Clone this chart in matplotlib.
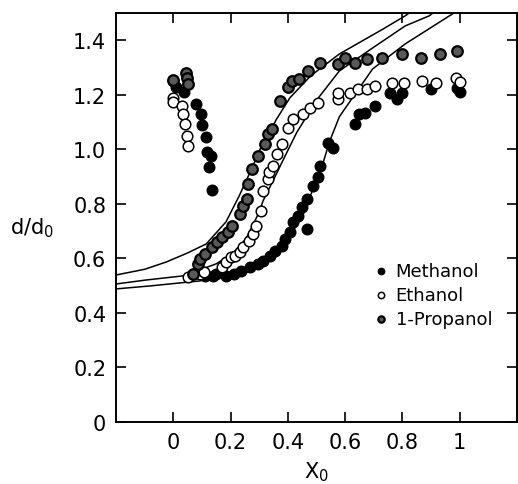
import matplotlib
matplotlib.use('Agg')
import matplotlib.pyplot as plt

# --- данные ---
meth_x = [0.0, 0.01, 0.038, 0.08, 0.097, 0.10, 0.115, 0.118, 0.132, 0.125, 0.136,
          0.11, 0.139, 0.15, 0.184, 0.212, 0.237, 0.268, 0.296, 0.313, 0.337, 0.355,
          0.379, 0.39, 0.407, 0.417, 0.435, 0.449, 0.466, 0.466, 0.487, 0.504, 0.511,
          0.54, 0.557, 0.633, 0.65, 0.668, 0.703, 0.755, 0.78, 0.80, 0.90, 0.99, 1.0]
meth_y = [1.25, 1.23, 1.21, 1.165, 1.13, 1.09, 1.045, 0.99, 0.975, 0.935, 0.85,
          0.536, 0.536, 0.543, 0.536, 0.543, 0.554, 0.569, 0.58, 0.59, 0.61, 0.627,
          0.646, 0.672, 0.697, 0.734, 0.756, 0.789, 0.818, 0.708, 0.866, 0.899, 0.939,
          1.024, 1.005, 1.094, 1.13, 1.134, 1.16, 1.207, 1.185, 1.207, 1.222, 1.225, 1.21]

eth_x = [0.0, 0.0, 0.03, 0.035, 0.04, 0.048, 0.05,
         0.052, 0.094, 0.108, 0.17, 0.184, 0.2, 0.216, 0.233, 0.243, 0.264, 0.278,
         0.289, 0.306, 0.313, 0.33, 0.334, 0.348, 0.362, 0.38, 0.40, 0.417, 0.452,
         0.477, 0.504, 0.574, 0.574, 0.616, 0.644, 0.678, 0.703, 0.762, 0.807, 0.87,
         0.918, 0.988, 1.0]
eth_y = [1.19, 1.174, 1.16, 1.13, 1.094, 1.05, 1.013,
         0.532, 0.543, 0.55, 0.569, 0.587, 0.605, 0.61, 0.625, 0.642, 0.664, 0.69,
         0.719, 0.774, 0.848, 0.892, 0.917, 0.94, 0.983, 1.02, 1.079, 1.11, 1.13,
         1.152, 1.17, 1.185, 1.207, 1.207, 1.222, 1.222, 1.233, 1.244, 1.244, 1.251,
         1.244, 1.262, 1.248]

prop_x = [0.0, 0.045, 0.047, 0.05,
          0.07, 0.087, 0.094, 0.11, 0.136, 0.153, 0.17, 0.19, 0.205, 0.233, 0.243,
          0.257, 0.26, 0.275, 0.296, 0.32, 0.33, 0.344, 0.372, 0.40, 0.413, 0.44,
          0.47, 0.511, 0.574, 0.598, 0.633, 0.675, 0.73, 0.80, 0.866, 0.93, 0.99]
prop_y = [1.255, 1.28, 1.26, 1.24,
          0.543, 0.58, 0.598, 0.617, 0.642, 0.66, 0.68, 0.697, 0.719, 0.763, 0.793,
          0.818, 0.873, 0.928, 0.976, 1.02, 1.057, 1.075, 1.178, 1.229, 1.251, 1.259,
          1.288, 1.317, 1.313, 1.336, 1.317, 1.332, 1.336, 1.35, 1.336, 1.35, 1.36]

# расчётные кривые (точки)
fitA_x = [-0.2, -0.1, -0.024, 0.05, 0.115, 0.184, 0.23, 0.278, 0.303, 0.36,
          0.407, 0.48, 0.58, 0.73, 0.81, 0.85]
fitA_y = [0.539, 0.56, 0.587, 0.62, 0.653, 0.734, 0.829, 0.939, 1.0, 1.11,
          1.189, 1.27, 1.35, 1.44, 1.49, 1.52]
fitB_x = [-0.2, -0.1, 0.035, 0.15, 0.209, 0.254, 0.30, 0.313, 0.36, 0.383,
          0.43, 0.50, 0.58, 0.696, 0.81, 0.894, 0.93]
fitB_y = [0.506, 0.52, 0.536, 0.58, 0.62, 0.672, 0.77, 0.81, 0.91, 0.96,
          1.06, 1.18, 1.288, 1.372, 1.453, 1.49, 1.52]
fitC_x = [-0.2, -0.08, 0.09, 0.264, 0.34, 0.372, 0.452, 0.497, 0.52, 0.546,
          0.58, 0.696, 0.81, 0.975, 1.0]
fitC_y = [0.488, 0.499, 0.517, 0.55, 0.60, 0.625, 0.756, 0.88, 0.94, 1.03,
          1.12, 1.295, 1.387, 1.497, 1.52]

x_ticks = [0, 0.2, 0.4, 0.6, 0.8, 1]
x_labels = ['0', '0.2', '0.4', '0.6', '0.8', '1']
y_ticks = [0, 0.2, 0.4, 0.6, 0.8, 1.0, 1.2, 1.4]
y_labels = ['0', '0.2', '0.4', '0.6', '0.8', '1.0', '1.2', '1.4']

fig = plt.figure(figsize=(5.18, 4.85), dpi=100)
ax = fig.add_axes([0.224, 0.128, 0.774, 0.843])

for fx, fy in [(fitA_x, fitA_y), (fitB_x, fitB_y), (fitC_x, fitC_y)]:
    ax.plot(fx, fy, 'k-', linewidth=1.1, zorder=2)

ax.scatter(meth_x, meth_y, s=58, facecolor='black', edgecolor='black',
           linewidths=1.0, zorder=3, label='Methanol')
ax.scatter(eth_x, eth_y, s=58, facecolor='white', edgecolor='black',
           linewidths=1.1, zorder=3, label='Ethanol')
ax.scatter(prop_x, prop_y, s=58, facecolor='0.35', edgecolor='black',
           linewidths=1.6, zorder=3, label='1-Propanol')

ax.set_xlim(-0.2, 1.2)
ax.set_ylim(0, 1.5)
ax.set_xticks(x_ticks)
ax.set_xticklabels(x_labels)
ax.set_yticks(y_ticks)
ax.set_yticklabels(y_labels)
ax.tick_params(direction='in', length=7, width=1.2, labelsize=15,
               top=True, right=True, pad=7)
for s in ax.spines.values():
    s.set_linewidth(1.4)

ax.set_ylabel(r'd/d$\mathregular{_0}$', fontsize=15, rotation=0,
              ha='center', va='center')
ax.yaxis.set_label_coords(-0.21, 0.477)
ax.set_xlabel(r'X$\mathregular{_0}$', fontsize=15, va='center')
ax.xaxis.set_label_coords(0.50, -0.12)

ax.legend(loc='upper left', bbox_to_anchor=(0.63, 0.41), frameon=False,
          fontsize=13, markerscale=0.6, handlelength=0.6, handletextpad=0.5,
          labelspacing=0.35, borderaxespad=0)

plt.savefig('out.png', dpi=100)
plt.close()
